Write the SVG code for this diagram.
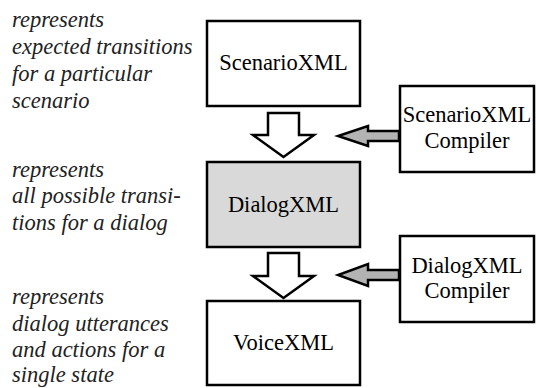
<svg xmlns="http://www.w3.org/2000/svg" width="536" height="388" viewBox="0 0 536 388">
<style>
.box{fill:#fff;stroke:#000;stroke-width:2.5}
.shaded{fill:#d9d9d9}
.lbl{font-size:22.5px;text-anchor:middle;fill:#000}
.note{font-size:22.5px;font-style:italic;fill:#222}
.down{fill:#fff;stroke:#000;stroke-width:2.5;stroke-linejoin:miter}
.left{fill:#b3b3b3;stroke:#000;stroke-width:2.5}
</style>
<g font-family="'Times New Roman', 'Liberation Serif', 'DejaVu Serif', serif">
<g id="notes">
<text class="note" x="12" y="27">represents</text>
<text class="note" x="12" y="54">expected transitions</text>
<text class="note" x="12" y="81">for a particular</text>
<text class="note" x="12" y="108">scenario</text>
<text class="note" x="12" y="177">represents</text>
<text class="note" x="12" y="203">all possible transi-</text>
<text class="note" x="12" y="230">tions for a dialog</text>
<text class="note" x="12" y="304">represents</text>
<text class="note" x="12" y="331">dialog utterances</text>
<text class="note" x="12" y="357">and actions for a</text>
<text class="note" x="12" y="382">single state</text>
</g>
<g id="scenarioxml">
<rect class="box" x="207" y="21" width="153" height="85"/>
<text class="lbl" x="283.5" y="70">ScenarioXML</text>
</g>
<g id="dialogxml">
<rect class="box shaded" x="207" y="162" width="153" height="85"/>
<text class="lbl" x="283.5" y="212">DialogXML</text>
</g>
<g id="voicexml">
<rect class="box" x="207" y="301" width="153" height="84"/>
<text class="lbl" x="283.5" y="350">VoiceXML</text>
</g>
<g id="scenarioxml-compiler">
<rect class="box" x="400" y="86" width="134" height="86"/>
<text class="lbl" x="467" y="122">ScenarioXML</text>
<text class="lbl" x="467" y="148">Compiler</text>
</g>
<g id="dialogxml-compiler">
<rect class="box" x="400" y="236" width="134" height="86"/>
<text class="lbl" x="467" y="273">DialogXML</text>
<text class="lbl" x="467" y="298">Compiler</text>
</g>
</g>
<g id="connectors">
<polygon class="down" points="268,113 299,113 299,135 314,135 283.5,157 253,135 268,135"/>
<polygon class="down" points="268,253 299,253 299,276 314,276 283.5,298 253,276 268,276"/>
<polygon class="left" points="399,131 368,131 368,126 338,136 368,146 368,141 399,141"/>
<polygon class="left" points="399,270 368,270 368,264 338,275 368,286 368,280 399,280"/>
</g>
</svg>
